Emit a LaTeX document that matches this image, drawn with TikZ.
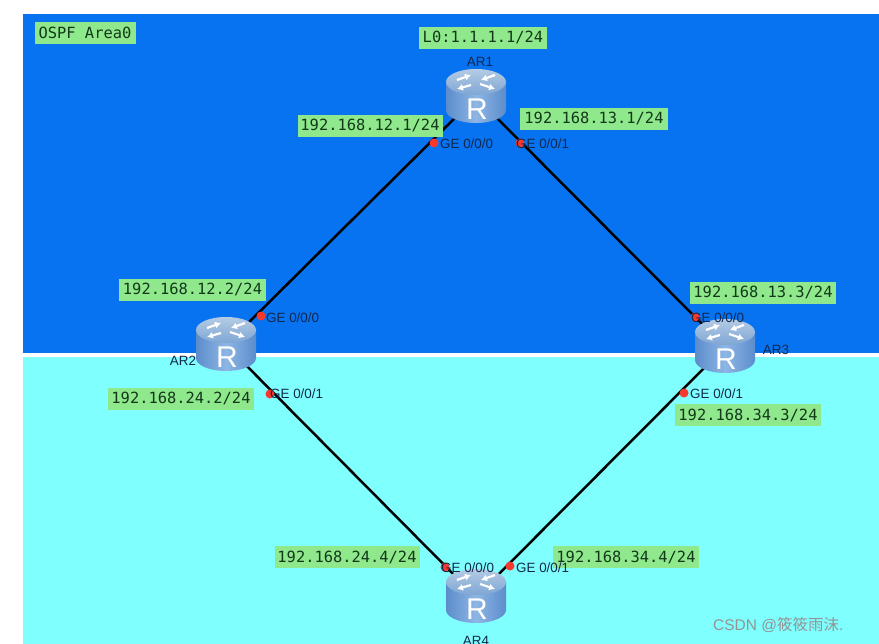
\documentclass[tikz,border=0pt]{standalone}
\usepackage{fontspec}
\setmainfont{Liberation Sans}
\newfontfamily\ipfont{DejaVu Sans Mono}
\newfontfamily\cjkfont{Noto Sans CJK SC}
\usetikzlibrary{arrows.meta}
\definecolor{areablue}{HTML}{0773F0}
\definecolor{areacyan}{HTML}{80FFFF}
\definecolor{tagfill}{HTML}{90E88C}
\definecolor{tagtext}{HTML}{12381A}
\definecolor{porttext}{HTML}{10284E}
\definecolor{dotred}{HTML}{F8382C}
\definecolor{rsideA}{HTML}{5C8CCB}
\definecolor{rsideB}{HTML}{8DB6E4}
\definecolor{rtopA}{HTML}{B4CBE4}
\definecolor{rtopB}{HTML}{7FA6D4}
\tikzset{
  iptag/.style={fill=tagfill,text=tagtext,inner sep=0pt,minimum height=22pt,minimum width=145pt,
    font=\ipfont\fontsize{15.4}{16}\selectfont},
  routernode/.style={circle,minimum size=58pt,inner sep=0pt},
  link/.style={black,line width=2.5pt},
  portlabel/.style={anchor=west,inner sep=0pt,text=porttext,font=\fontsize{13.4}{14}\selectfont},
  devlabel/.style={inner sep=0pt,text=porttext,font=\fontsize{13.4}{14}\selectfont},
  portdot/.style={circle,fill=dotred,minimum size=9pt,inner sep=0pt},
  rarrow/.style={white,line width=2.2pt,-{Latex[length=6pt,width=7pt]}},
}
\newcommand{\routerbody}[1]{%
  \begin{scope}[shift={(#1)}]
    \path[shade,left color=rsideA,right color=rsideA,middle color=rsideB]
      (-30,-15) -- (-30,13) arc[start angle=180,end angle=360,x radius=30pt,y radius=13pt]
      -- (30,-15) -- cycle;
    \path[shade,top color=rtopA,bottom color=rtopB] (0,-15) ellipse[x radius=30pt,y radius=13pt];
    \begin{scope}[shift={(0,-15)}]
      \draw[rarrow] (-19,-2) -- (-5,-7);
      \draw[rarrow] (19,-7) -- (5,-2);
      \draw[rarrow] (4,2) -- (19,7);
      \draw[rarrow] (-5,3) -- (-19,7);
    \end{scope}
    \node[inner sep=0pt,text=white,font=\fontsize{30}{30}\selectfont] at (1,12.5) {R};
  \end{scope}}
\begin{document}
\begin{tikzpicture}[x=1pt,y=-1pt]
  \useasboundingbox (0,0) rectangle (879,644);
  \clip (0,0) rectangle (879,644);
  \fill[white] (0,0) rectangle (879,644);
  \fill[areablue] (23,14) rectangle (879,353);
  \fill[areacyan] (23,357) rectangle (879,644);

  \node[routernode] (AR1) at (476,97) {};
  \node[routernode] (AR2) at (226,345) {};
  \node[routernode] (AR3) at (725,347) {};
  \node[routernode] (AR4) at (476,597) {};

  \draw[link] (AR1) -- (AR2);
  \draw[link] (AR1) -- (AR3);
  \draw[link] (AR2) -- (AR4);
  \draw[link] (AR3) -- (AR4);

  \routerbody{AR1}
  \routerbody{AR2}
  \routerbody{AR3}
  \routerbody{AR4}

  \node[iptag,minimum width=101pt] (t0) at (85,33) {OSPF Area0};
  \node[iptag,minimum width=128pt] (t1) at (483,38) {L0:1.1.1.1/24};
  \node[iptag] (t2) at (370,126) {192.168.12.1/24};
  \node[iptag,minimum width=148pt] (t3) at (594,119) {192.168.13.1/24};
  \node[iptag,minimum width=147pt] (t4) at (192.5,290) {192.168.12.2/24};
  \node[iptag,minimum width=146pt] (t5) at (181,399) {192.168.24.2/24};
  \node[iptag,minimum width=146pt] (t6) at (763,293) {192.168.13.3/24};
  \node[iptag,minimum width=146pt] (t7) at (748,415) {192.168.34.3/24};
  \node[iptag] (t8) at (347,557) {192.168.24.4/24};
  \node[iptag,minimum width=146pt] (t9) at (626,557) {192.168.34.4/24};

  \node[portdot] (d1) at (434,143) {};
  \node[portdot] (d2) at (520,143) {};
  \node[portdot] (d3) at (261,316) {};
  \node[portdot] (d4) at (270,394) {};
  \node[portdot] (d5) at (695,317) {};
  \node[portdot] (d6) at (684,393) {};
  \node[portdot] (d7) at (445,567) {};
  \node[portdot] (d8) at (510,566) {};

  \node[portlabel] (p1) at (440,144) {GE 0/0/0};
  \node[portlabel] (p2) at (516,144) {GE 0/0/1};
  \node[portlabel] (p3) at (266,318) {GE 0/0/0};
  \node[portlabel] (p4) at (270,394) {GE 0/0/1};
  \node[portlabel] (p5) at (691,318) {GE 0/0/0};
  \node[portlabel] (p6) at (690,394) {GE 0/0/1};
  \node[portlabel] (p7) at (441,568) {GE 0/0/0};
  \node[portlabel] (p8) at (516,568) {GE 0/0/1};

  \node[devlabel] (n1) at (480,62) {AR1};
  \node[devlabel] (n2) at (183,361) {AR2};
  \node[devlabel] (n3) at (776,350) {AR3};
  \node[devlabel] (n4) at (476,641) {AR4};

  \node[anchor=west,inner sep=0pt,text=black!42,font=\fontsize{15.5}{16}\selectfont] (wm) at (713,625)
    {CSDN @{\cjkfont 筱筱雨沫}.};
\end{tikzpicture}
\end{document}
